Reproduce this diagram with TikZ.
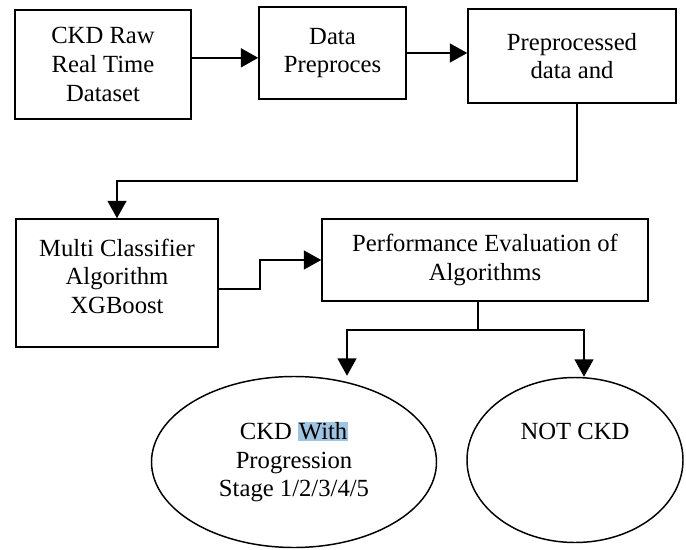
\documentclass[tikz,border=0pt]{standalone}
\usepackage{fontspec}
\setmainfont{Liberation Serif}
\usetikzlibrary{arrows.meta,shapes.geometric}
\definecolor{selblue}{RGB}{158,196,226}
\newcommand{\marked}[1]{{\setlength{\fboxsep}{0.6pt}\colorbox{selblue}{#1}}}

\begin{document}
\begin{tikzpicture}[x=0.75pt,y=-0.75pt,
  box/.style={draw,line width=1.1pt,align=center,inner sep=2pt,
    font=\fontsize{18.5pt}{21.5pt}\selectfont},
  oval/.style={box,ellipse},
  flow/.style={line width=1.6pt,-{Triangle[length=13pt,width=14pt]}}]
  \useasboundingbox (0,0) rectangle (686,550);

  \node [box,minimum width=132pt,minimum height=81.75pt] (raw) at (103,64.5) {CKD Raw\\Real Time\\Dataset};
  \node [box,minimum width=110.25pt,minimum height=69pt] (prep) at (332.5,53) {Data\\Preproces};
  \node [box,minimum width=156pt,minimum height=70.5pt] (clean) at (572,56) {Preprocessed\\data and};

  \node [box,minimum width=151.5pt,minimum height=96pt] (xgb) at (117,283) {Multi Classifier\\Algorithm\\XGBoost\\[-11pt]\mbox{}};
  \node [box,minimum width=244.5pt,minimum height=61.5pt] (perf) at (485,260) {Performance Evaluation of\\Algorithms};

  \node [oval,minimum width=213.75pt,minimum height=128.25pt] (ckd) at (294,462) {CKD \marked{With}\\Progression\\Stage 1/2/3/4/5};
  \node [oval,minimum width=162pt,minimum height=123.75pt] (notckd) at (575,460) {NOT CKD\\ \mbox{}\\ \mbox{}};

  \coordinate (down) at (117,181);
  \coordinate (jog) at (260,274);
  \coordinate (split) at (478,330);

  \draw [flow,line width=2pt] ([yshift=5pt]raw.east) -- ([yshift=5pt]raw.east -| prep.west);
  \draw [flow] (prep.east) -- (prep.east -| clean.west);
  \draw [flow] ([xshift=3.75pt]clean.south) |- (down) -- (xgb.north);
  \draw [flow] ([yshift=-4.5pt]xgb.east) -| (jog) |- (perf.west);

  \draw [line width=1.6pt] ([xshift=-5.25pt]perf.south) -- (split);
  \draw [flow] (split) -| ([xshift=39.75pt]ckd.north);
  \draw [flow] (split) -| ([xshift=6.75pt]notckd.north);
\end{tikzpicture}
\end{document}
